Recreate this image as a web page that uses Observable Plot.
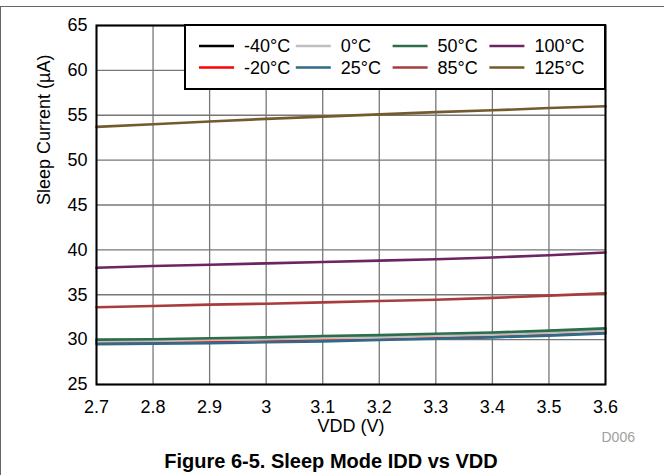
<!DOCTYPE html>
<html>
<head>
<meta charset="utf-8">
<script src="https://cdn.jsdelivr.net/npm/d3@7"></script>
<script src="https://cdn.jsdelivr.net/npm/@observablehq/plot@0.6"></script>
<style>
  html, body { margin: 0; padding: 0; background: #fff; }
  #chart svg { display: block; }
</style>
</head>
<body>
<div id="chart"></div>
<script>
// ---- data ----
const vdd = [2.7, 2.8, 2.9, 3.0, 3.1, 3.2, 3.3, 3.4, 3.5, 3.6];
const temps = ["-40°C", "-20°C", "0°C", "25°C", "50°C", "85°C", "100°C", "125°C"];
const colors = ["#000000", "#ff0000", "#bfbfbf", "#2f6a88", "#2d6e4a", "#a83c3c", "#6b2563", "#735b2d"];
const i_m40 = [29.8, 29.85, 29.9, 30.0, 30.1, 30.2, 30.35, 30.5, 30.7, 30.95];
const i_m20 = [29.7, 29.75, 29.85, 29.95, 30.05, 30.15, 30.3, 30.5, 30.7, 30.95];
const i_0   = [29.8, 29.85, 29.95, 30.05, 30.15, 30.25, 30.4, 30.55, 30.75, 31.0];
const i_25  = [29.5, 29.55, 29.6, 29.7, 29.8, 29.95, 30.1, 30.25, 30.45, 30.7];
const i_50  = [30.0, 30.05, 30.15, 30.25, 30.4, 30.5, 30.65, 30.8, 31.0, 31.25];
const i_85  = [33.6, 33.75, 33.9, 34.0, 34.15, 34.3, 34.45, 34.65, 34.9, 35.15];
const i_100 = [38.0, 38.2, 38.35, 38.5, 38.65, 38.8, 38.95, 39.15, 39.4, 39.7];
const i_125 = [53.7, 54.0, 54.3, 54.6, 54.85, 55.1, 55.35, 55.55, 55.8, 56.0];
const series = [i_m40, i_m20, i_0, i_25, i_50, i_85, i_100, i_125];
const xTicks = [2.7, 2.8, 2.9, 3.0, 3.1, 3.2, 3.3, 3.4, 3.5, 3.6];
const yTicks = [25, 30, 35, 40, 45, 50, 55, 60, 65];
const xLabel = "VDD (V)";
const yLabel = "Sleep Current (µA)";
const title = "Figure 6-5. Sleep Mode IDD vs VDD";
const code = "D006";

const rows = [];
series.forEach((s, k) => s.forEach((v, j) => rows.push({ t: temps[k], v: vdd[j], i: v })));

const FONT = "'Liberation Sans', Arial, sans-serif";

const plot = Plot.plot({
  width: 664,
  height: 475,
  marginLeft: 96,
  marginRight: 59,
  marginTop: 25,
  marginBottom: 91,
  style: { fontFamily: FONT, fontSize: "18px", color: "#000", background: "#fff" },
  x: { domain: [2.7, 3.6], ticks: xTicks, tickFormat: d3.format("~g"), tickSize: 0, tickPadding: 16, label: null },
  y: { domain: [25, 65], ticks: yTicks, tickSize: 0, tickPadding: 9, label: null },
  color: { domain: temps, range: colors },
  marks: [
    Plot.gridX(xTicks, { stroke: "#777", strokeOpacity: 1, strokeWidth: 1.3 }),
    Plot.gridY(yTicks, { stroke: "#777", strokeOpacity: 1, strokeWidth: 1.3 }),
    Plot.line(rows, { x: "v", y: "i", z: "t", stroke: "t", strokeWidth: 2.6 }),
    Plot.frame({ stroke: "#000", strokeWidth: 2 }),
    Plot.text([xLabel], { frameAnchor: "bottom", dy: 47, fontSize: 18, fill: "#000" }),
    Plot.text([yLabel], { frameAnchor: "left", dx: -52, rotate: -90, fontSize: 18, fill: "#000" }),
    Plot.text([code], { frameAnchor: "bottom-right", textAnchor: "start", dx: -4, dy: 57, fontSize: 14, fill: "#a0a0a0" })
  ]
});

document.getElementById("chart").appendChild(plot);

const svg = d3.select(plot);
const x = plot.scale("x");

// outer page frame lines
svg.append("line").attr("x1", 0).attr("x2", 664).attr("y1", 6.5).attr("y2", 6.5).attr("stroke", "#666").attr("stroke-width", 1);
svg.append("line").attr("x1", 0.5).attr("x2", 0.5).attr("y1", 6).attr("y2", 475).attr("stroke", "#666").attr("stroke-width", 1);

// title
svg.append("text").attr("x", 331).attr("y", 468).attr("text-anchor", "middle")
  .attr("font-family", FONT).attr("font-size", 20).attr("font-weight", "bold").attr("fill", "#000").text(title);

// legend (box inside top-right of the plot)
const lg = svg.append("g").attr("font-family", FONT).attr("font-size", 18).attr("text-anchor", "start");
const lx0 = 185, ly0 = 25, lx1 = x.range[1], ly1 = 89;
lg.append("rect").attr("x", lx0).attr("y", ly0).attr("width", lx1 - lx0).attr("height", ly1 - ly0)
  .attr("fill", "#fff").attr("stroke", "#000").attr("stroke-width", 2);
temps.forEach((t, k) => {
  const col = Math.floor(k / 2), row = k % 2;
  const sx = 199 + col * 96.8, sy = 46 + row * 21.5;
  lg.append("line").attr("x1", sx).attr("x2", sx + 35).attr("y1", sy).attr("y2", sy)
    .attr("stroke", colors[k]).attr("stroke-width", 2.6);
  lg.append("text").attr("x", sx + 45).attr("y", sy).attr("dy", "0.35em").attr("text-anchor", "start")
    .attr("fill", "#000").text(t);
});
</script>
</body>
</html>
